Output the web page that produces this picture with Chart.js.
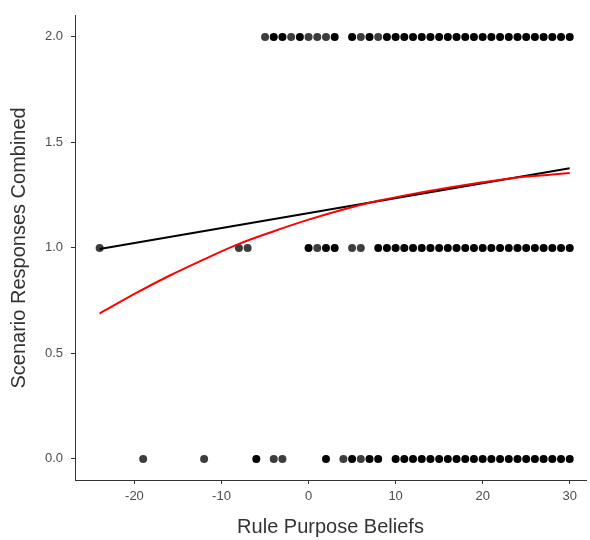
<!DOCTYPE html>
<html>
<head>
<meta charset="utf-8">
<script src="https://cdn.jsdelivr.net/npm/chart.js@4/dist/chart.umd.min.js"></script>
<style>
  html, body { margin: 0; padding: 0; background: #fff; }
  #wrap { width: 590px; height: 540px; position: relative; }
</style>
</head>
<body>
<div id="wrap"><canvas id="chart"></canvas></div>
<script>
// x values where responses were observed, one array per response level
const xAt0 = [-19, -12, -6, -4, -3, 2, 4, 5, 6, 7, 8,
    10, 11, 12, 13, 14, 15, 16, 17, 18, 19, 20, 21, 22, 23, 24, 25, 26, 27, 28, 29, 30];
const xAt1 = [-24, -8, -7, 0, 1, 2, 3, 5, 6,
    8, 9, 10, 11, 12, 13, 14, 15, 16, 17, 18, 19, 20, 21, 22, 23, 24, 25, 26, 27, 28, 29, 30];
const xAt2 = [-5, -4, -3, -2, -1, 0, 1, 2, 3,
    5, 6, 7, 8, 9, 10, 11, 12, 13, 14, 15, 16, 17, 18, 19, 20, 21, 22, 23, 24, 25, 26, 27, 28, 29, 30];

// x values with a single observation (drawn lighter, no overplotting)
const single0 = [-19, -12, -4, -3, 4, 6];
const single1 = [-24, -8, -7, 1, 5, 6];
const single2 = [-5, -2, 0, 1, 2, 6, 8];

// linear fit
const linearX = [-24, 30];
const linearY = [0.995, 1.377];

// curved fit
const curveX = [-24, -20, -16, -12, -8, -4, 0, 4, 8, 12, 16, 20, 24, 28, 30];
const curveY = [0.689, 0.782, 0.868, 0.946, 1.019, 1.079, 1.134, 1.182, 1.223, 1.256, 1.285, 1.311, 1.334, 1.348, 1.355];

const xTicks = [-20, -10, 0, 10, 20, 30];
const yTicks = [0, 0.5, 1, 1.5, 2];

const points = [];
const pointColors = [];
[[xAt0, single0, 0], [xAt1, single1, 1], [xAt2, single2, 2]].forEach(([xs, singles, y]) => {
    xs.forEach(x => {
        points.push({ x, y });
        pointColors.push(singles.includes(x) ? '#3d3d3d' : '#000000');
    });
});

const axisColor = '#333333';
const font = 'Liberation Sans, Arial, Helvetica, sans-serif';

new Chart(document.getElementById('chart'), {
    type: 'scatter',
    data: {
        datasets: [
            {
                type: 'line',
                data: curveX.map((x, i) => ({ x, y: curveY[i] })),
                borderColor: '#ff0000',
                borderWidth: 2,
                pointRadius: 0,
                cubicInterpolationMode: 'monotone',
                fill: false,
                order: 0
            },
            {
                type: 'line',
                data: linearX.map((x, i) => ({ x, y: linearY[i] })),
                borderColor: '#000000',
                borderWidth: 2,
                pointRadius: 0,
                fill: false,
                order: 1
            },
            {
                data: points,
                backgroundColor: pointColors,
                borderWidth: 0,
                pointRadius: 4,
                order: 2
            }
        ]
    },
    options: {
        responsive: true,
        maintainAspectRatio: false,
        animation: false,
        layout: { padding: { left: 0, right: 2, top: 14, bottom: 0 } },
        plugins: {
            legend: { display: false },
            tooltip: { enabled: false }
        },
        scales: {
            x: {
                type: 'linear',
                min: -26.83,
                max: 31.87,
                afterBuildTicks: (scale) => { scale.ticks = xTicks.map(v => ({ value: v })); },
                afterFit: (scale) => { scale.height = 60; },
                grid: { drawOnChartArea: false, tickLength: 4, color: axisColor, tickWidth: 1 },
                border: { display: true, color: axisColor, width: 1 },
                ticks: { color: '#4d4d4d', font: { family: font, size: 13 }, padding: 5, maxRotation: 0 },
                title: { display: true, text: 'Rule Purpose Beliefs', color: '#333333', font: { family: font, size: 20 }, padding: { top: 0, bottom: 1 } }
            },
            y: {
                type: 'linear',
                min: -0.1,
                max: 2.1,
                afterBuildTicks: (scale) => { scale.ticks = yTicks.map(v => ({ value: v })); },
                afterFit: (scale) => { scale.width = 75; },
                grid: { drawOnChartArea: false, tickLength: 4, color: axisColor, tickWidth: 1 },
                border: { display: true, color: axisColor, width: 1 },
                ticks: { color: '#4d4d4d', font: { family: font, size: 13 }, padding: 8, callback: (v) => v.toFixed(1) },
                title: { display: true, text: 'Scenario Responses Combined', color: '#333333', font: { family: font, size: 20 }, padding: { top: 7, bottom: 0 } }
            }
        }
    }
});
</script>
</body>
</html>
